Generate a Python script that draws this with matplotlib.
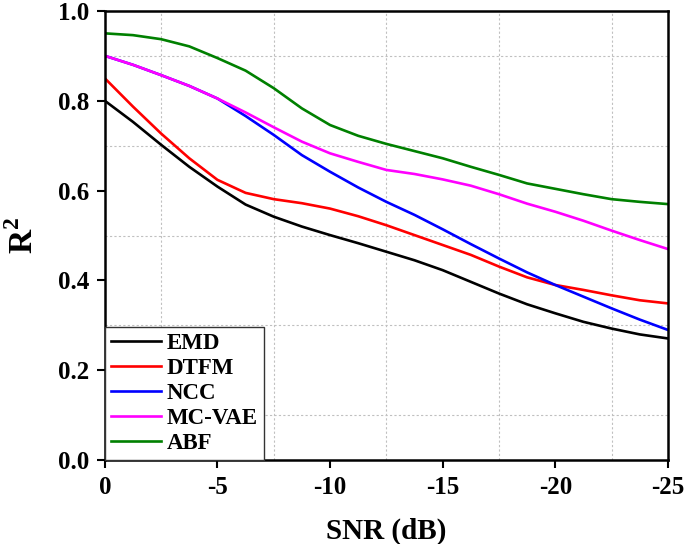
import matplotlib
matplotlib.use('Agg')
import matplotlib.pyplot as plt
from matplotlib.ticker import MultipleLocator

plt.rcParams['font.family'] = 'Liberation Serif'
plt.rcParams['font.weight'] = 'bold'
plt.rcParams['mathtext.fontset'] = 'custom'
plt.rcParams['mathtext.rm'] = 'Liberation Serif:bold'
plt.rcParams['mathtext.bf'] = 'Liberation Serif:bold'
plt.rcParams['axes.unicode_minus'] = False

snr = [0, -1.25, -2.5, -3.75, -5, -6.25, -7.5, -8.75, -10, -11.25, -12.5,
       -13.75, -15, -16.25, -17.5, -18.75, -20, -21.25, -22.5, -23.75, -25]
emd = [0.800, 0.753, 0.702, 0.653, 0.609, 0.569, 0.542, 0.520, 0.501, 0.483,
       0.464, 0.445, 0.423, 0.397, 0.371, 0.347, 0.327, 0.308, 0.293, 0.280,
       0.271]
dtfm = [0.850, 0.787, 0.727, 0.672, 0.624, 0.595, 0.581, 0.572, 0.560, 0.543,
        0.523, 0.501, 0.479, 0.457, 0.431, 0.407, 0.390, 0.379, 0.367, 0.356,
        0.349]
ncc = [0.900, 0.880, 0.857, 0.833, 0.805, 0.766, 0.724, 0.679, 0.642, 0.607,
       0.575, 0.546, 0.514, 0.481, 0.449, 0.418, 0.390, 0.364, 0.338, 0.313,
       0.290]
mcvae = [0.900, 0.880, 0.857, 0.833, 0.805, 0.774, 0.741, 0.709, 0.683, 0.664,
         0.646, 0.637, 0.625, 0.611, 0.592, 0.571, 0.553, 0.533, 0.511, 0.490,
         0.470]
abf = [0.950, 0.946, 0.937, 0.921, 0.895, 0.867, 0.828, 0.783, 0.746, 0.722,
       0.704, 0.688, 0.672, 0.653, 0.635, 0.616, 0.604, 0.592, 0.581, 0.575,
       0.570]

series = [('EMD', emd, 'black'), ('DTFM', dtfm, 'red'), ('NCC', ncc, 'blue'),
          ('MC-VAE', mcvae, 'magenta'), ('ABF', abf, 'green')]

fig = plt.figure(figsize=(6.85, 5.44), dpi=100)
ax = fig.add_axes([0.153, 0.154, 0.822, 0.826])

for name, vals, col in series:
    ax.plot(snr, vals, color=col, lw=1.9, label=name)

ax.set_xlim(0, -25)
ax.set_ylim(0, 1.0)
ax.xaxis.set_major_locator(MultipleLocator(5))
ax.xaxis.set_minor_locator(MultipleLocator(2.5))
ax.yaxis.set_major_locator(MultipleLocator(0.2))
ax.yaxis.set_minor_locator(MultipleLocator(0.1))
ax.set_xticklabels(['0' if t == 0 else f'{t:.0f}' for t in ax.get_xticks()])
ax.set_yticklabels([f'{t:.1f}' for t in ax.get_yticks()])

# dashed grid sits on the minor positions only
ax.grid(which='minor', color='#c0c0c0', linestyle=(0, (2, 2)), lw=0.8)
ax.grid(which='major', visible=False)
ax.tick_params(which='major', direction='out', length=6, width=1.5, pad=5,
               labelsize=18, top=False, right=False)
ax.tick_params(which='minor', length=0)
for s in ax.spines.values():
    s.set_linewidth(1.8)

ax.set_xlabel('SNR (dB)', fontsize=21, fontweight='bold', labelpad=14)
ax.set_ylabel(r'R$^{2}$', fontsize=24, fontweight='bold', labelpad=13)

leg = ax.legend(loc='lower left', borderaxespad=0, fancybox=False,
                edgecolor='#333333', fontsize=16.5, handlelength=2.2,
                labelspacing=0.18, borderpad=0.25, handletextpad=0.25)
leg.get_frame().set_linewidth(1.0)
leg.get_frame().set_alpha(1)

fig.savefig('out.png', dpi=100)
